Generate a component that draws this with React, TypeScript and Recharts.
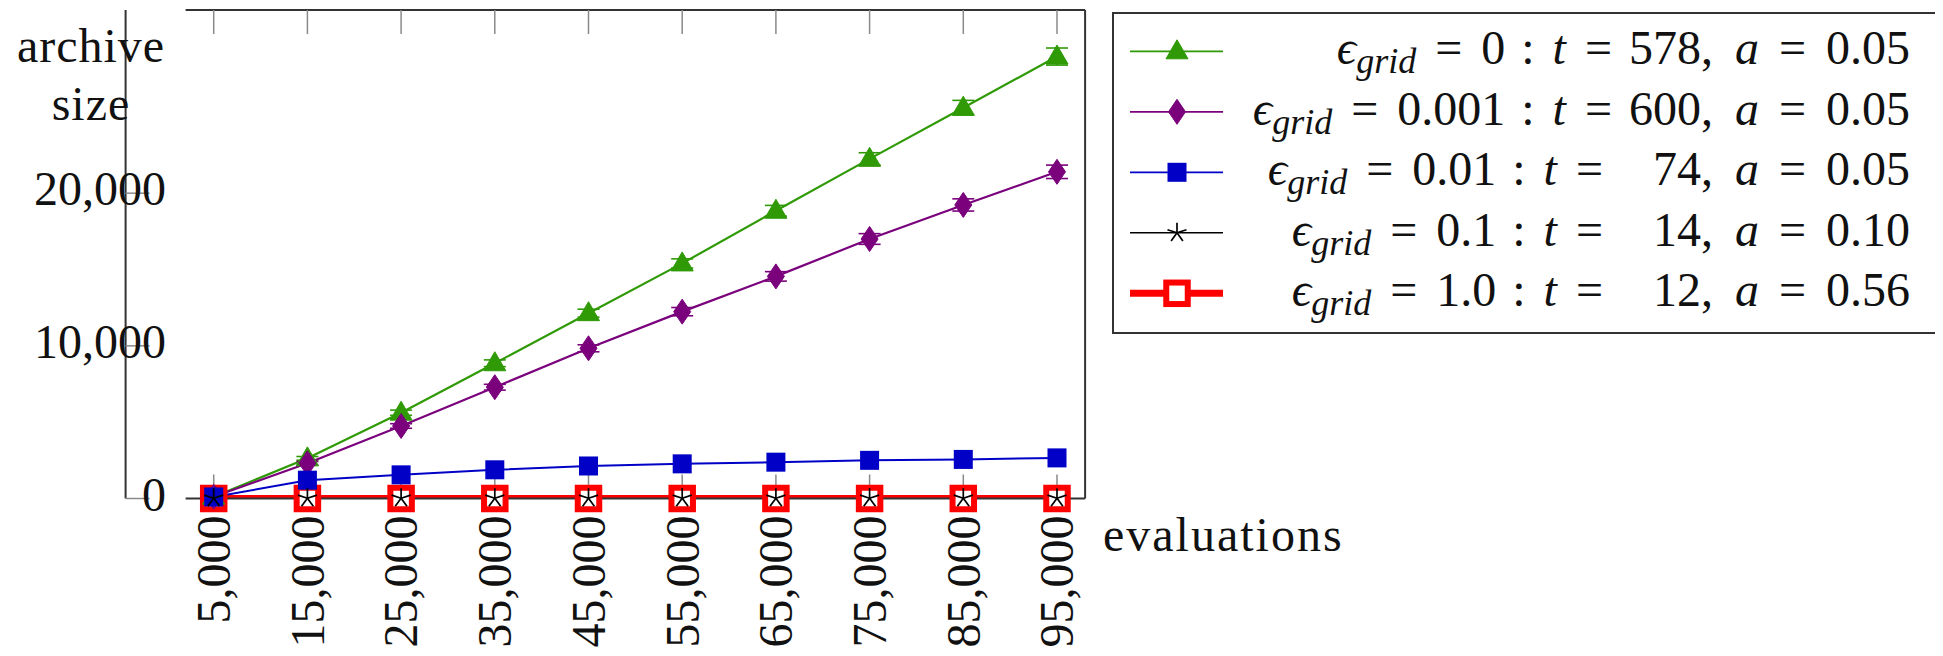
import React from 'react';
import { LineChart, Line, XAxis, YAxis, ErrorBar, Legend } from 'recharts';

// evaluations at which the archive was sampled
const evaluations = [5000, 15000, 25000, 35000, 45000, 55000, 65000, 75000, 85000, 95000];

// mean archive size per grid resolution
const gridEps0 = [120, 2630, 5620, 8860, 12140, 15400, 18850, 22250, 25600, 28950];
const gridEps0Err = [30, 120, 170, 220, 260, 300, 350, 400, 480, 560];
const gridEps0001 = [110, 2310, 4750, 7290, 9840, 12240, 14550, 17000, 19230, 21400];
const gridEps0001Err = [30, 110, 150, 190, 230, 270, 310, 350, 400, 440];
const gridEps001 = [100, 1200, 1550, 1880, 2130, 2270, 2380, 2500, 2560, 2660];
const gridEps01 = [20, 20, 20, 20, 20, 20, 20, 20, 20, 20];
const gridEps1 = [0, 0, 0, 0, 0, 0, 0, 0, 0, 0];

const yTicks = [0, 10000, 20000];

// legend entries: grid epsilon, run time t and a
const legendEps = ['0', '0.001', '0.01', '0.1', '1.0'];
const legendT = ['578', '600', '74', '14', '12'];
const legendA = ['0.05', '0.05', '0.05', '0.10', '0.56'];

const data = evaluations.map((e, i) => ({
  e,
  g0: gridEps0[i],
  g0Err: gridEps0Err[i],
  g1: gridEps0001[i],
  g1Err: gridEps0001Err[i],
  g2: gridEps001[i],
  g3: gridEps01[i],
  g4: gridEps1[i],
}));

const FONT = '"Liberation Serif", "DejaVu Serif", serif';
const GREEN = '#2f9a06';
const PURPLE = '#7a007c';
const BLUE = '#0000c6';
const BLACK = '#000000';
const RED = '#ff0000';
const AXIS = '#333333';
const TICK = '#8a8a8a';

// label placement around the plot box
const X_LABEL_TOP = 507.5;
const Y_LABEL_RIGHT = 158;

const fmt = (v: number) => v.toLocaleString('en-US');

// ---- marker shapes ----
const triangle = (cx: number, cy: number, k?: any) => (
  <polygon
    key={k}
    points={`${cx},${cy - 11.5} ${cx - 11},${cy + 7.5} ${cx + 11},${cy + 7.5}`}
    fill={GREEN}
    stroke={GREEN}
    strokeWidth={1}
  />
);
const diamond = (cx: number, cy: number, k?: any) => (
  <polygon
    key={k}
    points={`${cx},${cy - 12.5} ${cx + 8.5},${cy} ${cx},${cy + 12.5} ${cx - 8.5},${cy}`}
    fill={PURPLE}
    stroke={PURPLE}
    strokeWidth={1}
  />
);
const filledSquare = (cx: number, cy: number, k?: any) => (
  <rect key={k} x={cx - 9.5} y={cy - 9.5} width={19} height={19} fill={BLUE} />
);
const star = (cx: number, cy: number, k?: any) => {
  const r = 10;
  const rays = [-90, -18, 54, 126, 198];
  return (
    <g key={k}>
      {rays.map((a) => (
        <line
          key={a}
          x1={cx}
          y1={cy}
          x2={cx + r * Math.cos((a * Math.PI) / 180)}
          y2={cy + r * Math.sin((a * Math.PI) / 180)}
          stroke={BLACK}
          strokeWidth={1.7}
        />
      ))}
    </g>
  );
};
const openSquare = (cx: number, cy: number, k?: any) => (
  <rect key={k} x={cx - 10.75} y={cy - 10.75} width={21.5} height={21.5} fill="#ffffff" stroke={RED} strokeWidth={6} />
);

const dotOf = (shape: (cx: number, cy: number, k?: any) => React.ReactElement) => (p: any) => {
  if (p.cx == null || p.cy == null) return <g key={p.key} />;
  return shape(p.cx, p.cy, p.key ?? `${p.index}`);
};

const series = [
  { color: GREEN, width: 1.8, shape: triangle },
  { color: PURPLE, width: 1.8, shape: diamond },
  { color: BLUE, width: 1.8, shape: filledSquare },
  { color: BLACK, width: 1.6, shape: star },
  { color: RED, width: 7, shape: openSquare },
];

// ---- axis ticks ----
const XTick = (p: any) => (
  <text
    x={p.x}
    y={X_LABEL_TOP}
    transform={`rotate(-90 ${p.x} ${X_LABEL_TOP})`}
    textAnchor="end"
    dy="0.34em"
    fontSize={48}
    fontFamily={FONT}
    fill="#111"
  >
    {fmt(p.payload.value)}
  </text>
);
const YTick = (p: any) => (
  <text x={Y_LABEL_RIGHT} y={p.y} textAnchor="end" dy="0.25em" fontSize={48} fontFamily={FONT} fill="#111">
    {fmt(p.payload.value)}
  </text>
);
const NoTick = () => <g />;

const YTitle = () => (
  <g fontFamily={FONT} fontSize={48} fill="#111" textAnchor="middle" letterSpacing={1}>
    <text x={83} y={54}>archive</text>
    <text x={83} y={112}>size</text>
  </g>
);
const XTitle = () => (
  <text x={1095} y={543} fontFamily={FONT} fontSize={48} fill="#111" letterSpacing={2}>
    evaluations
  </text>
);

// ---- legend ----
const LegendBox = () => {
  const rowY = (i: number) => 39.3 + i * 60.5;
  return (
    <svg width={827} height={322} style={{ display: 'block' }}>
      <rect x={1} y={1} width={825} height={320} fill="#fff" stroke={AXIS} strokeWidth={2} />
      {series.map((s, i) => {
        const y = rowY(i);
        const base = y + 13;
        const aEnd = legendT[i].length >= 3 ? 500 : 491;
        return (
          <g key={i}>
            <line x1={18} y1={y} x2={111} y2={y} stroke={s.color} strokeWidth={s.width} />
            {s.shape(65, y)}
            <text x={aEnd} y={base} textAnchor="end" fontFamily={FONT} fontSize={48} fill="#111">
              <tspan fontStyle="italic">ϵ</tspan>
              <tspan fontStyle="italic" fontSize={36} dy={9}>grid</tspan>
              <tspan dy={-9} dx={19}>=</tspan>
              <tspan dx={19}>{legendEps[i]}</tspan>
              <tspan dx={16}>:</tspan>
              <tspan dx={18} fontStyle="italic">t</tspan>
              <tspan dx={19}>=</tspan>
            </text>
            <text x={798} y={base} textAnchor="end" fontFamily={FONT} fontSize={48} fill="#111">
              <tspan>{legendT[i]},</tspan>
              <tspan dx={22} fontStyle="italic">a</tspan>
              <tspan dx={20}>=</tspan>
              <tspan dx={20}>{legendA[i]}</tspan>
            </text>
          </g>
        );
      })}
    </svg>
  );
};

export default function App() {
  return (
    <div style={{ width: 1935, height: 648 }}>
      <LineChart
        width={1935}
        height={648}
        data={data}
        margin={{ top: 1, right: 856.9, bottom: 7.5, left: 0 }}
      >
        <XAxis
          xAxisId="b"
          dataKey="e"
          type="number"
          domain={[2000, 98000]}
          ticks={evaluations}
          interval={0}
          height={150}
          tickSize={-24}
          tick={<XTick />}
          axisLine={{ stroke: AXIS, strokeWidth: 2 }}
          tickLine={{ stroke: TICK, strokeWidth: 1.5 }}
          label={<XTitle />}
        />
        <XAxis
          xAxisId="t"
          orientation="top"
          dataKey="e"
          type="number"
          domain={[2000, 98000]}
          ticks={evaluations}
          interval={0}
          height={1}
          tickSize={-24}
          tick={<NoTick />}
          axisLine={{ stroke: AXIS, strokeWidth: 2 }}
          tickLine={{ stroke: TICK, strokeWidth: 1.5 }}
        />
        <YAxis
          yAxisId="l"
          type="number"
          domain={[0, 32000]}
          ticks={yTicks}
          interval={0}
          width={177.6}
          tickSize={-24}
          tick={<YTick />}
          axisLine={{ stroke: AXIS, strokeWidth: 2 }}
          tickLine={{ stroke: TICK, strokeWidth: 1.5 }}
          label={<YTitle />}
        />
        <YAxis
          yAxisId="r"
          orientation="right"
          type="number"
          domain={[0, 32000]}
          ticks={yTicks}
          interval={0}
          width={1}
          tickSize={-24}
          tick={<NoTick />}
          axisLine={{ stroke: AXIS, strokeWidth: 2 }}
          tickLine={{ stroke: TICK, strokeWidth: 1.5 }}
        />
        <YAxis yAxisId="c" hide type="number" domain={[0, 32000]} allowDataOverflow />

        {/* the two flat series are clipped at the axis; their marks are not */}
        <Line xAxisId="b" yAxisId="c" dataKey="g3" stroke={BLACK} strokeWidth={1.4} dot={false} isAnimationActive={false} />
        <Line xAxisId="b" yAxisId="c" dataKey="g4" stroke={RED} strokeWidth={7} dot={false} isAnimationActive={false} />
        <Line xAxisId="b" yAxisId="l" dataKey="g4" stroke="none" dot={dotOf(openSquare)} isAnimationActive={false} />

        <Line xAxisId="b" yAxisId="l" dataKey="g0" stroke={GREEN} strokeWidth={2.2} dot={dotOf(triangle)} isAnimationActive={false}>
          <ErrorBar dataKey="g0Err" direction="y" width={11} stroke={GREEN} strokeWidth={1.6} />
        </Line>
        <Line xAxisId="b" yAxisId="l" dataKey="g1" stroke={PURPLE} strokeWidth={2.2} dot={dotOf(diamond)} isAnimationActive={false}>
          <ErrorBar dataKey="g1Err" direction="y" width={11} stroke={PURPLE} strokeWidth={1.6} />
        </Line>
        <Line xAxisId="b" yAxisId="l" dataKey="g2" stroke={BLUE} strokeWidth={2} dot={dotOf(filledSquare)} isAnimationActive={false} />
        <Line xAxisId="b" yAxisId="l" dataKey="g3" stroke="none" dot={dotOf(star)} isAnimationActive={false} />

        <Legend
          content={<LegendBox />}
          layout="horizontal"
          verticalAlign="middle"
          align="center"
          wrapperStyle={{ left: 1104, top: 3.7, width: 827, height: 322 }}
        />
      </LineChart>
    </div>
  );
}
